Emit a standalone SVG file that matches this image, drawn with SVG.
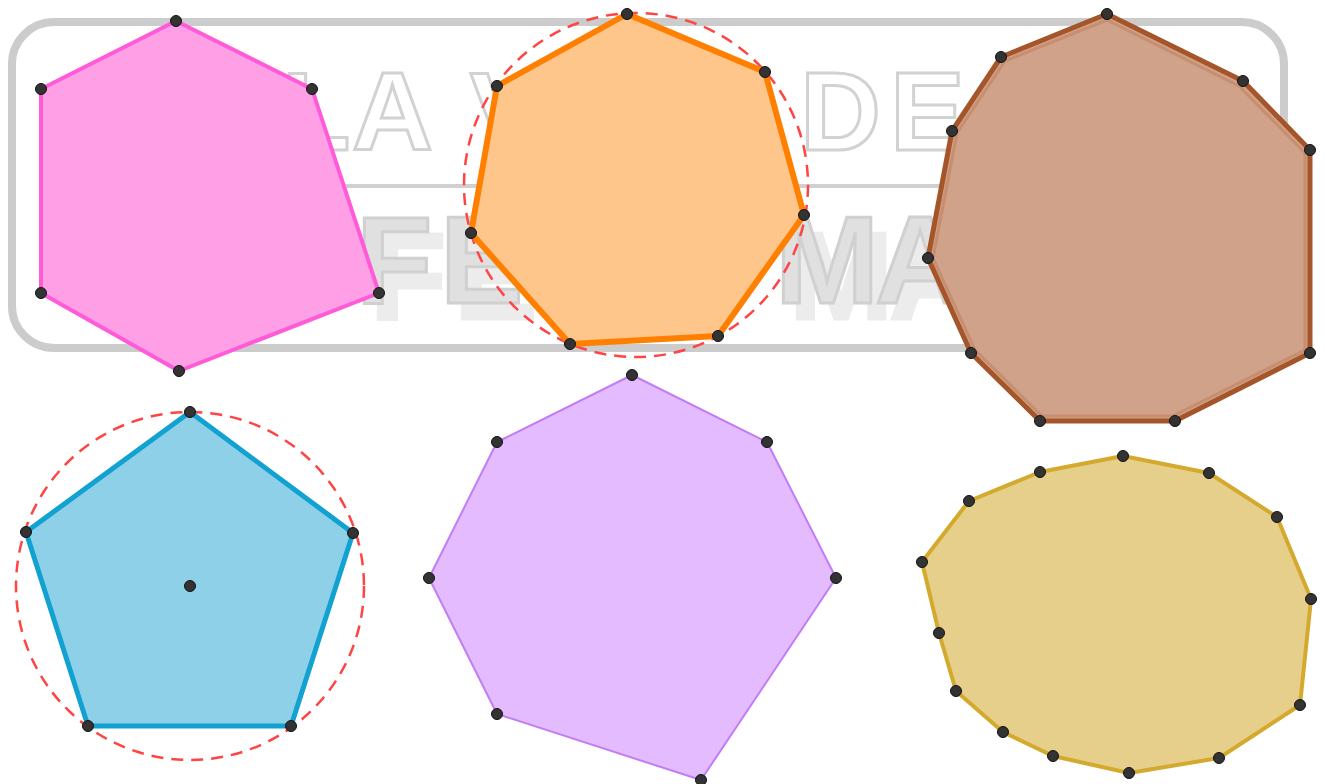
<svg xmlns="http://www.w3.org/2000/svg" width="1325" height="784" viewBox="0 0 1325 784">
<defs>
<filter id="shadow" x="-20%" y="-20%" width="160%" height="160%">
  <feOffset in="SourceAlpha" dx="14" dy="16" result="off"/>
  <feFlood flood-color="#ececec"/>
  <feComposite in2="off" operator="in" result="sh"/>
  <feMerge><feMergeNode in="sh"/><feMergeNode in="SourceGraphic"/></feMerge>
</filter>
</defs>
<style>
.wm-out{font-family:"Liberation Sans",Arial,sans-serif;font-weight:bold;font-size:112px;fill:#ffffff;stroke:#d2d2d2;stroke-width:3}
.wm-fill{font-family:"Liberation Sans",Arial,sans-serif;font-weight:bold;font-size:125px;fill:#e0e0e0;stroke:#d0d0d0;stroke-width:3}
.pt{fill:#333333;stroke:#111111;stroke-width:1}
.circ{fill:none;stroke:#ff4444;stroke-width:2.5;stroke-dasharray:12 8}
</style>
<rect width="1325" height="784" fill="#ffffff"/>
<g id="watermark">
  <rect x="12" y="22" width="1272" height="326" rx="42" ry="42" fill="none" stroke="#cccccc" stroke-width="8"/>
  <line x1="250" y1="186" x2="1000" y2="186" stroke="#d0d0d0" stroke-width="4"/>
  <text class="wm-out" x="282" y="150">L</text>
  <text class="wm-out" x="352" y="150">A</text>
  <text class="wm-out" x="470" y="150">V</text>
  <text class="wm-out" x="800" y="150">D</text>
  <text class="wm-out" x="890" y="150">E</text>
  <g filter="url(#shadow)">
    <text class="wm-fill" x="356" y="303">F</text>
    <text class="wm-fill" x="440" y="303">E</text>
    <text class="wm-fill" x="775" y="303">M</text>
    <text class="wm-fill" x="875" y="303">A</text>
  </g>
</g>
<g id="hexagon-pink">
  <polygon points="176,21 312,89 379,293 179,371 41,293 41,89" fill="#ff9fe6" stroke="#ff5ad8" stroke-width="4" stroke-linejoin="round"/>
  <circle class="pt" cx="176" cy="21" r="5.5"/><circle class="pt" cx="312" cy="89" r="5.5"/><circle class="pt" cx="379" cy="293" r="5.5"/>
  <circle class="pt" cx="179" cy="371" r="5.5"/><circle class="pt" cx="41" cy="293" r="5.5"/><circle class="pt" cx="41" cy="89" r="5.5"/>
</g>
<g id="heptagon-orange">
  <circle class="circ" cx="636" cy="185" r="172"/>
  <polygon points="627,14 765,72 804,215 718,336 570,344 471,233 497,86" fill="#ffc68c" stroke="#ff8000" stroke-width="6" stroke-linejoin="round"/>
  <circle class="pt" cx="627" cy="14" r="5.5"/><circle class="pt" cx="765" cy="72" r="5.5"/><circle class="pt" cx="804" cy="215" r="5.5"/>
  <circle class="pt" cx="718" cy="336" r="5.5"/><circle class="pt" cx="570" cy="344" r="5.5"/><circle class="pt" cx="471" cy="233" r="5.5"/>
  <circle class="pt" cx="497" cy="86" r="5.5"/>
</g>
<g id="decagon-brown">
  <polygon points="1107,14 1243,81 1310,150 1310,353 1175,421 1040,421 971,353 928,258 952,131 1001,57" fill="#d0a28a" stroke="#a5552a" stroke-width="5" stroke-linejoin="round"/>
  <polygon points="1107,20 1239,86 1305,153 1305,350 1173,416 1042,416 975,350 933,258 957,133 1005,61" fill="none" stroke="#c07a55" stroke-width="3" opacity="0.5"/>
  <circle class="pt" cx="1107" cy="14" r="5.5"/><circle class="pt" cx="1243" cy="81" r="5.5"/><circle class="pt" cx="1310" cy="150" r="5.5"/>
  <circle class="pt" cx="1310" cy="353" r="5.5"/><circle class="pt" cx="1175" cy="421" r="5.5"/><circle class="pt" cx="1040" cy="421" r="5.5"/>
  <circle class="pt" cx="971" cy="353" r="5.5"/><circle class="pt" cx="928" cy="258" r="5.5"/><circle class="pt" cx="952" cy="131" r="5.5"/>
  <circle class="pt" cx="1001" cy="57" r="5.5"/>
</g>
<g id="pentagon-blue">
  <circle class="circ" cx="190" cy="586" r="174"/>
  <polygon points="190,412 353,533 291,726 88,726 26,532" fill="#8ed0e7" stroke="#12a2d2" stroke-width="5" stroke-linejoin="round"/>
  <circle class="pt" cx="190" cy="412" r="5.5"/><circle class="pt" cx="353" cy="533" r="5.5"/><circle class="pt" cx="291" cy="726" r="5.5"/>
  <circle class="pt" cx="88" cy="726" r="5.5"/><circle class="pt" cx="26" cy="532" r="5.5"/><circle class="pt" cx="190" cy="586" r="5.5"/>
</g>
<g id="heptagon-purple">
  <polygon points="632,375 767,442 836,578 701,780 497,714 429,578 497,442" fill="#e5bbff" stroke="#c27cf6" stroke-width="2" stroke-linejoin="round"/>
  <circle class="pt" cx="632" cy="375" r="5.5"/><circle class="pt" cx="767" cy="442" r="5.5"/><circle class="pt" cx="836" cy="578" r="5.5"/>
  <circle class="pt" cx="701" cy="780" r="5.5"/><circle class="pt" cx="497" cy="714" r="5.5"/><circle class="pt" cx="429" cy="578" r="5.5"/>
  <circle class="pt" cx="497" cy="442" r="5.5"/>
</g>
<g id="polygon-yellow">
  <polygon points="1123,456 1209,473 1277,517 1311,599 1300,705 1219,758 1129,773 1053,756 1003,732 956,691 939,633 922,562 969,501 1040,472" fill="#e6cf8b" stroke="#d4aa2e" stroke-width="4" stroke-linejoin="round"/>
  <circle class="pt" cx="1123" cy="456" r="5.5"/><circle class="pt" cx="1209" cy="473" r="5.5"/><circle class="pt" cx="1277" cy="517" r="5.5"/>
  <circle class="pt" cx="1311" cy="599" r="5.5"/><circle class="pt" cx="1300" cy="705" r="5.5"/><circle class="pt" cx="1219" cy="758" r="5.5"/>
  <circle class="pt" cx="1129" cy="773" r="5.5"/><circle class="pt" cx="1053" cy="756" r="5.5"/><circle class="pt" cx="1003" cy="732" r="5.5"/>
  <circle class="pt" cx="956" cy="691" r="5.5"/><circle class="pt" cx="939" cy="633" r="5.5"/><circle class="pt" cx="922" cy="562" r="5.5"/>
  <circle class="pt" cx="969" cy="501" r="5.5"/><circle class="pt" cx="1040" cy="472" r="5.5"/>
</g>
</svg>
